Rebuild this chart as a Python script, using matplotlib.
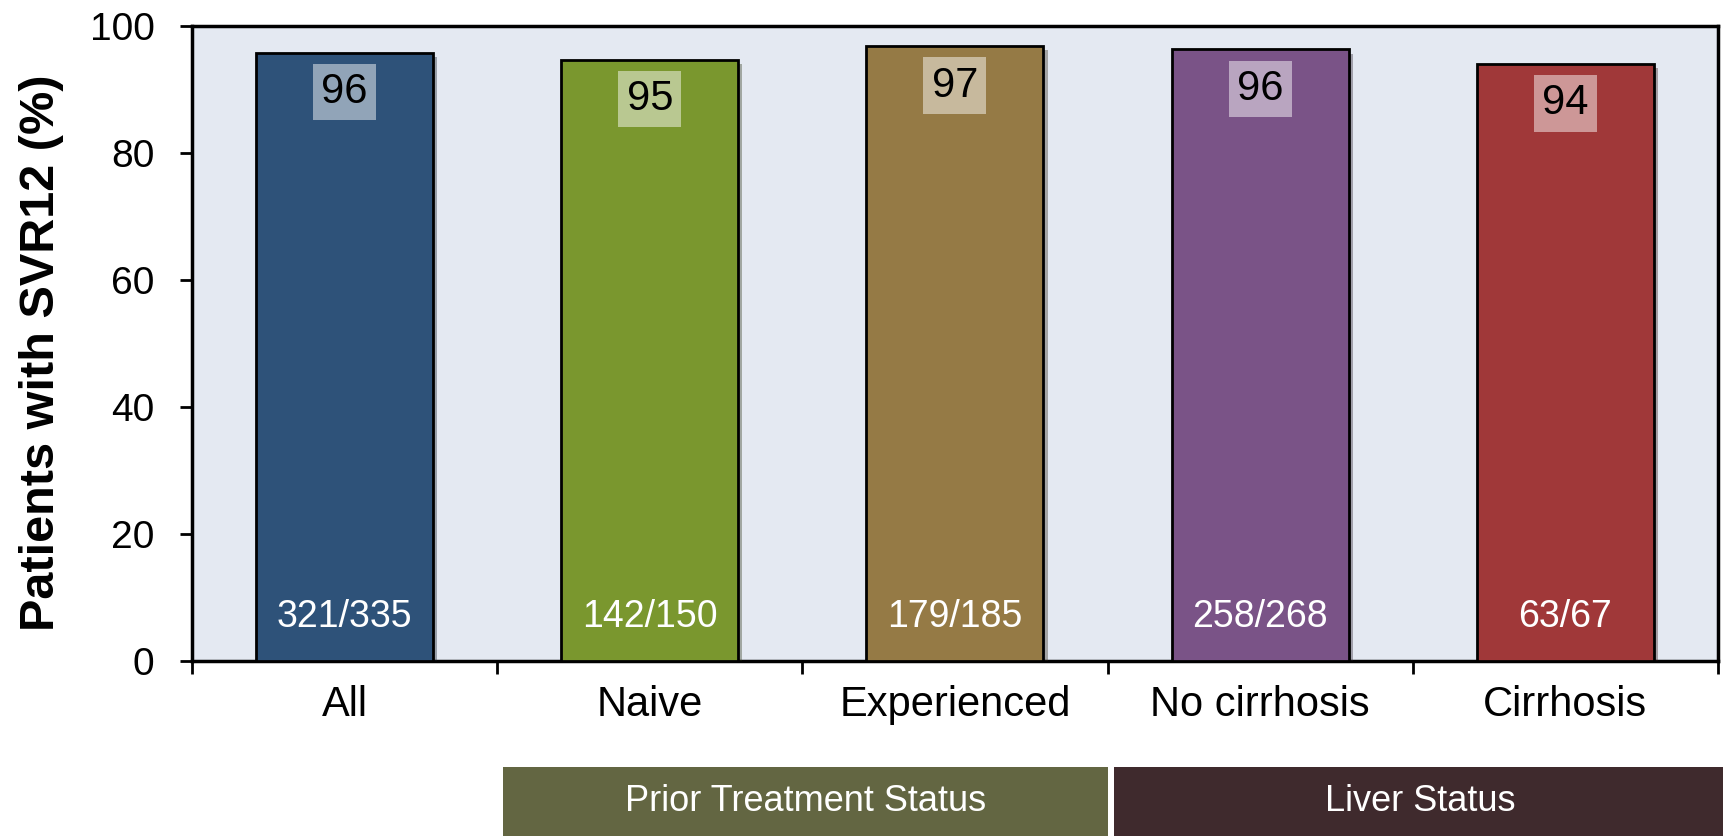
import matplotlib
matplotlib.use("Agg")
import matplotlib.pyplot as plt
import matplotlib.patheffects as pe
from matplotlib.transforms import blended_transform_factory

plt.rcParams['font.family'] = ['Liberation Sans', 'DejaVu Sans']

# data
categories = ["All", "Naive", "Experienced", "No cirrhosis", "Cirrhosis"]
svr_pct = [95.8, 94.7, 96.8, 96.3, 94.0]
top_labels = ["96", "95", "97", "96", "94"]
n_labels = ["321/335", "142/150", "179/185", "258/268", "63/67"]
bar_colors = ["#2E5279", "#7A972E", "#957A45", "#7A5387", "#A03839"]
groups = ["Prior Treatment Status", "Liver Status"]
group_span = [(0.52, 2.5), (2.52, 4.53)]
group_colors = ["#636642", "#3F2A2D"]

fig = plt.figure(figsize=(17.23, 8.36), dpi=100)
ax = fig.add_axes([0.1114, 0.2093, 0.9971 - 0.1114, 0.9689 - 0.2093])
ax.set_facecolor("#E4E9F2")

x = list(range(len(categories)))
bars = ax.bar(x, svr_pct, width=0.58, color=bar_colors, edgecolor="black",
              linewidth=2, zorder=3)
for b in bars:
    b.set_path_effects([pe.SimplePatchShadow(offset=(3, -3), alpha=0.35), pe.Normal()])

for i in x:
    ax.text(i, svr_pct[i] - 6.2, top_labels[i], ha="center", va="center",
            fontsize=30, color="black", zorder=5,
            bbox=dict(boxstyle="square,pad=0.2", facecolor="white", alpha=0.48,
                      edgecolor="none"))
    ax.text(i, 6.9, n_labels[i], ha="center", va="center", fontsize=27,
            color="white", zorder=5)

ax.set_xlim(-0.5, 4.5)
ax.set_ylim(0, 100)
ax.set_yticks([0, 20, 40, 60, 80, 100])
ax.tick_params(axis="y", labelsize=28, length=9, width=2, pad=18, direction="out")

# boundaries as major ticks, names as minor ticks
ax.set_xticks([-0.5, 0.5, 1.5, 2.5, 3.5, 4.5])
ax.set_xticklabels([])
ax.tick_params(axis="x", which="major", length=9, width=2, direction="out")
ax.set_xticks(x, minor=True)
ax.set_xticklabels(categories, minor=True)
ax.tick_params(axis="x", which="minor", length=0, labelsize=30, pad=17)

for s in ax.spines.values():
    s.set_linewidth(2.5)
    s.set_color("black")

ax.set_ylabel("Patients with SVR12 (%)", fontsize=35, fontweight="bold")
ax.yaxis.set_label_coords(-0.084, 0.485)

# group boxes under the axis
tr = blended_transform_factory(ax.transData, fig.transFigure)
for name, (x0, x1), c in zip(groups, group_span, group_colors):
    rect = plt.Rectangle((x0, 0), x1 - x0, 0.0825, transform=tr, facecolor=c,
                         edgecolor="none", clip_on=False)
    fig.add_artist(rect)
    fig.text((x0 + x1) / 2, 0.041, name, transform=tr, fontsize=26, color="white",
             ha="center", va="center")

fig.savefig("out.png", dpi=100)
